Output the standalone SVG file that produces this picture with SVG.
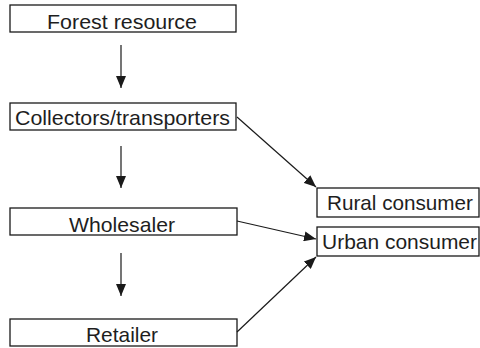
<svg xmlns="http://www.w3.org/2000/svg" width="480" height="348" viewBox="0 0 480 348">
<defs>
<marker id="ah" markerUnits="userSpaceOnUse" markerWidth="12" markerHeight="10" refX="12" refY="5" orient="auto">
<path d="M0,0 L12,5 L0,10 Z" fill="#1a1a1a"/>
</marker>
</defs>
<style>
.box{fill:#fff;stroke:#1a1a1a;stroke-width:1.3}
.t{font-family:"Liberation Sans",Arial,sans-serif;font-size:21px;fill:#1e1e1e}
.c{stroke:#1a1a1a;stroke-width:1.2;fill:none;marker-end:url(#ah)}
</style>
<rect width="480" height="348" fill="#fff"/>
<g id="forest"><rect class="box" x="10" y="5" width="226" height="27"/><text class="t" x="122" y="28.5" text-anchor="middle" textLength="150" lengthAdjust="spacingAndGlyphs">Forest resource</text></g>
<g id="collectors"><rect class="box" x="10" y="103" width="226" height="27"/><text class="t" x="122.5" y="125" text-anchor="middle" textLength="215" lengthAdjust="spacingAndGlyphs">Collectors/transporters</text></g>
<g id="wholesaler"><rect class="box" x="10" y="208" width="227" height="27"/><text class="t" x="122" y="231.5" text-anchor="middle" textLength="106" lengthAdjust="spacingAndGlyphs">Wholesaler</text></g>
<g id="retailer"><rect class="box" x="10" y="319" width="227" height="27"/><text class="t" x="122" y="342" text-anchor="middle" textLength="72" lengthAdjust="spacingAndGlyphs">Retailer</text></g>
<g id="rural"><rect class="box" x="317" y="188" width="162" height="29"/><text class="t" x="327" y="210" textLength="146" lengthAdjust="spacingAndGlyphs">Rural consumer</text></g>
<g id="urban"><rect class="box" x="317" y="227" width="162" height="29"/><text class="t" x="322" y="249" textLength="155" lengthAdjust="spacingAndGlyphs">Urban consumer</text></g>
<g id="connectors">
<line class="c" x1="121" y1="45" x2="121" y2="88"/>
<line class="c" x1="121" y1="146" x2="121" y2="188"/>
<line class="c" x1="121" y1="253" x2="121" y2="296"/>
<line class="c" x1="237" y1="117" x2="316" y2="187"/>
<line class="c" x1="237" y1="221" x2="316" y2="239"/>
<line class="c" x1="237" y1="332" x2="316" y2="257"/>
</g>
</svg>
